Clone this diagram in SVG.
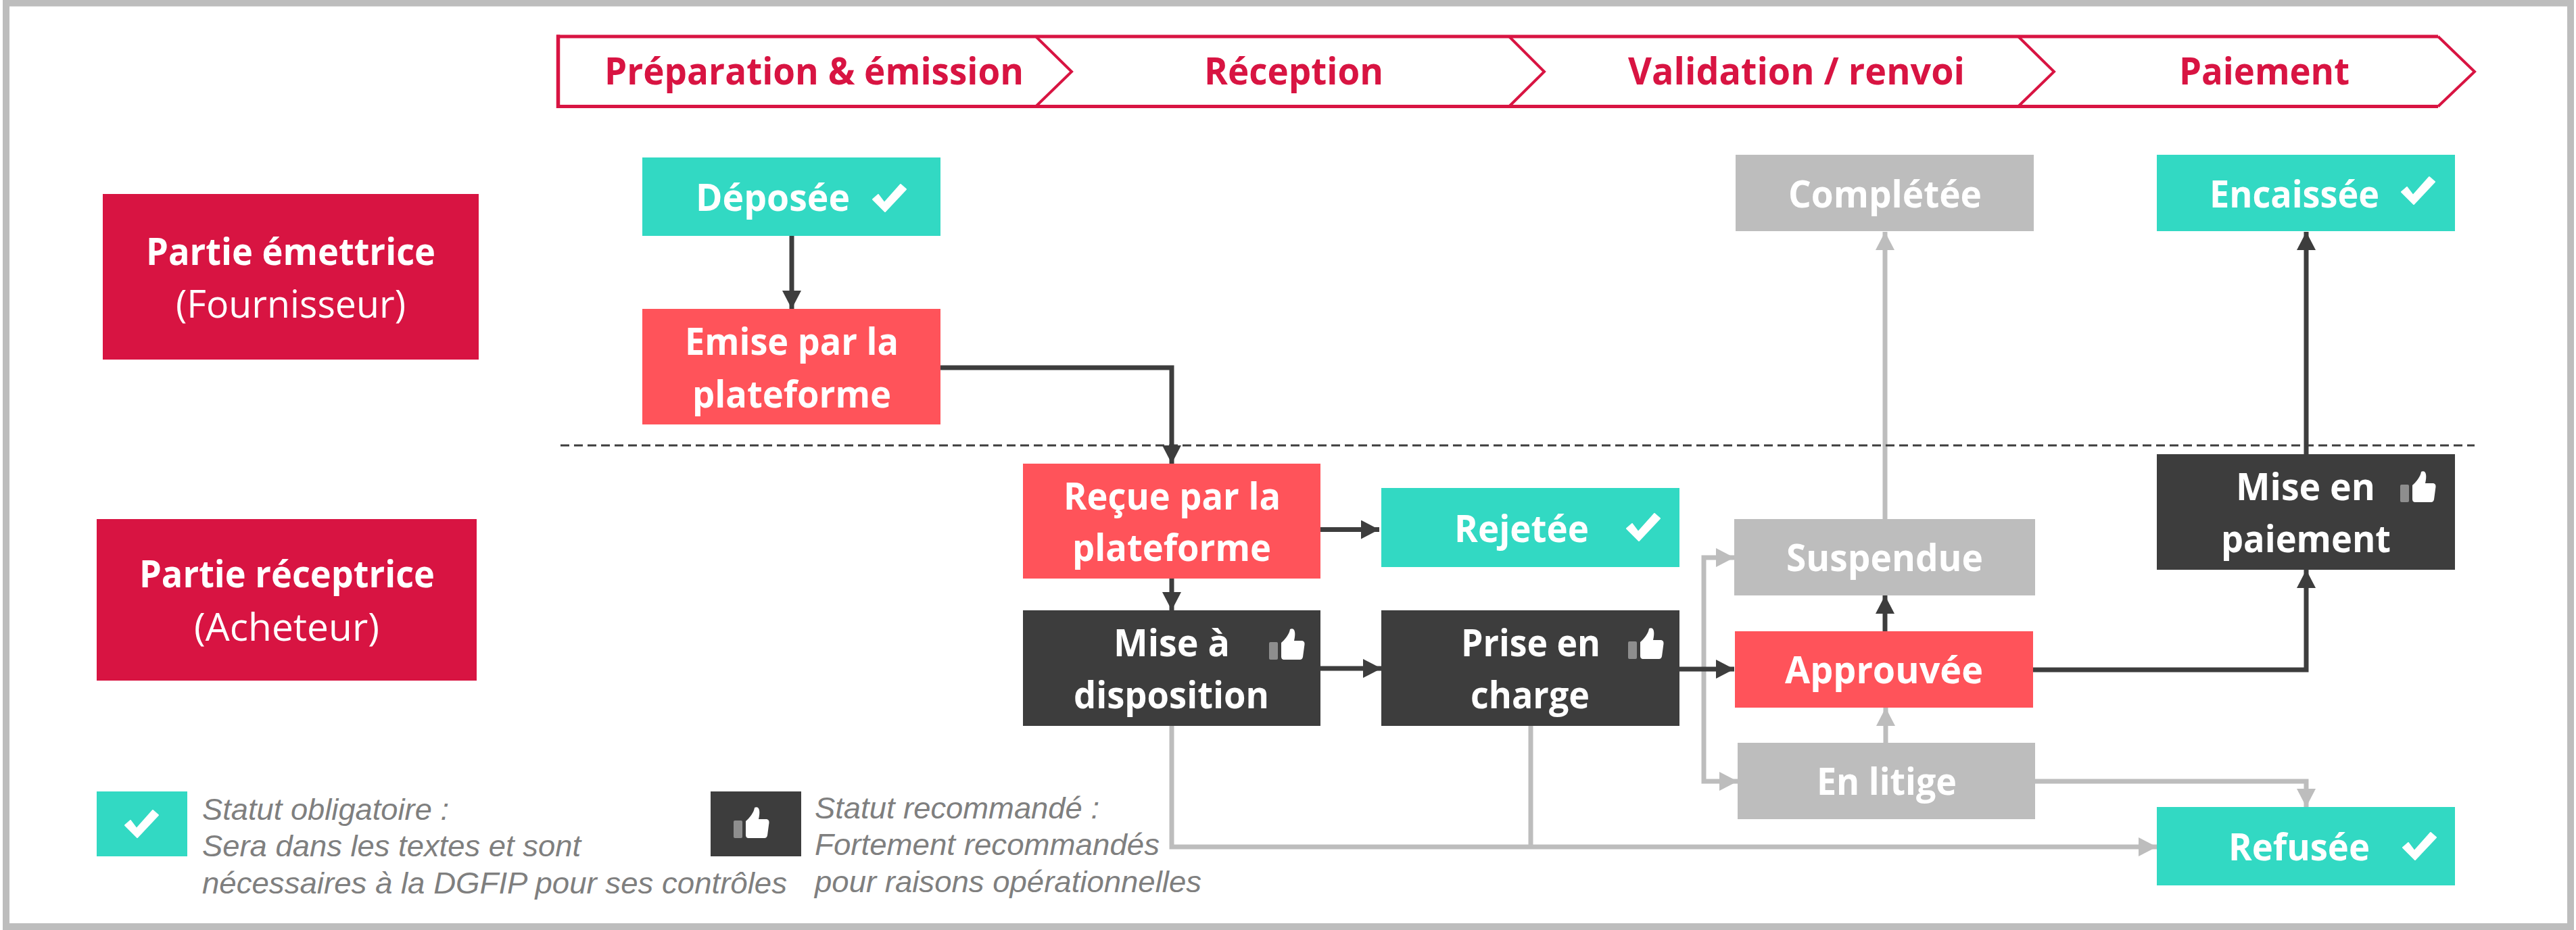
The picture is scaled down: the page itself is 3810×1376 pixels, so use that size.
<svg xmlns="http://www.w3.org/2000/svg" xmlns:xlink="http://www.w3.org/1999/xlink" width="3810" height="1376" viewBox="0 0 3810 1376">
<style>
text{font-family:"Open Sans","Noto Sans","Liberation Sans",sans-serif}
.t{font-size:56px;font-weight:700;fill:#fff}
.r{font-weight:400}
.h{font-size:56px;font-weight:700;fill:#D81442}
.l{font-family:"Liberation Sans",Arial,sans-serif;font-size:45px;font-style:italic;fill:#7F7F7F}
.teal{fill:#32D9C3}.coral{fill:#FF535A}.dark{fill:#3D3D3D}.grey{fill:#BDBDBD}.crim{fill:#D81442}
.cd{fill:none;stroke:#3D3D3D;stroke-width:7;marker-end:url(#ad)}
.cg{fill:none;stroke:#BDBDBD;stroke-width:7;marker-end:url(#ag)}
.cn{fill:none;stroke:#BDBDBD;stroke-width:7}
.ch{fill:none;stroke:#D81442}
</style>
<defs>
<marker id="ad" markerUnits="userSpaceOnUse" markerWidth="28" markerHeight="28" refX="27" refY="14" orient="auto"><path d="M0 0L27 14L0 28Z" fill="#3D3D3D"/></marker>
<marker id="ag" markerUnits="userSpaceOnUse" markerWidth="28" markerHeight="28" refX="27" refY="14" orient="auto"><path d="M0 0L27 14L0 28Z" fill="#BDBDBD"/></marker>
<path id="check" d="M0 22L8 15L17 27L41 0L49 7L18 40Z" fill="#fff" stroke="#fff" stroke-width="2" stroke-linejoin="round"/>
<g id="thumb"><rect x="0" y="20" width="13" height="26" rx="2" fill="#8E8E8E"/><path d="M18 21C24 16 30 8 31 1C38-2 40 6 37 18L49 18C53 19 53 22 52 27L50 42C49 46 47 46 44 46L23 46C19 46 18 44 18 41Z" fill="#fff"/></g>
</defs>
<rect width="3810" height="1376" fill="#fff"/>
<path id="frame" d="M9 4.500H3802V1371H9Z" fill="none" stroke="#BDBDBD" stroke-width="10"/>

<g id="connectors">
<path class="cd" d="M1171 349V457"/>
<path class="cd" d="M1391 544H1733V686"/>
<path class="cd" d="M1953 783.500H2040"/>
<path class="cd" d="M1733 856V903"/>
<path class="cd" d="M1953 989H2043"/>
<path class="cg" d="M2520 990V825H2565"/>
<path class="cg" d="M2520 990V1156H2570"/>
<path class="cd" d="M2484 990H2565"/>
<path class="cg" d="M2788 768V343"/>
<path class="cd" d="M3411 672V343"/>
<path class="cd" d="M2788 934V881"/>
<path class="cg" d="M2789 1099V1047"/>
<path class="cd" d="M3007 991H3411V843"/>
<path class="cg" d="M3010 1156H3411V1194"/>
<path class="cg" d="M1733 1074V1253H3190"/>
<path class="cn" d="M2264 1074V1253"/>
</g>
<path id="separator" d="M829 659H3660" fill="none" stroke="#3D3D3D" stroke-width="3" stroke-dasharray="13 7"/>

<g id="phase-preparation"><path class="ch" stroke-width="5" d="M823 54H1532M823 157.500H1532"/><path class="ch" stroke-width="5.500" d="M825.500 51.500V160"/><path class="ch" stroke-width="4" d="M1532 54L1585 106L1532 157.500"/>
<text class="h" x="894" y="125" textLength="620" lengthAdjust="spacingAndGlyphs">Préparation &amp; émission</text></g>
<g id="phase-reception"><path class="ch" stroke-width="5" d="M1532 54H2232M1532 157.500H2232"/><path class="ch" stroke-width="4" d="M2232 54L2284 106L2232 157.500"/>
<text class="h" x="1781" y="125" textLength="265" lengthAdjust="spacingAndGlyphs">Réception</text></g>
<g id="phase-validation"><path class="ch" stroke-width="5" d="M2232 54H2985M2232 157.500H2985"/><path class="ch" stroke-width="4" d="M2985 54L3038 106L2985 157.500"/>
<text class="h" x="2408" y="125" textLength="498" lengthAdjust="spacingAndGlyphs">Validation / renvoi</text></g>
<g id="phase-paiement"><path class="ch" stroke-width="5" d="M2985 54H3606M2985 157.500H3606"/><path class="ch" stroke-width="4" d="M3606 54L3660 106L3606 157.500"/>
<text class="h" x="3223" y="125" textLength="252" lengthAdjust="spacingAndGlyphs">Paiement</text></g>

<g id="partie-emettrice"><rect class="crim" x="152" y="287" width="556" height="245"/>
<text class="t" x="216" y="392" textLength="428" lengthAdjust="spacingAndGlyphs">Partie émettrice</text>
<text class="t r" x="260" y="470" textLength="340" lengthAdjust="spacingAndGlyphs">(Fournisseur)</text></g>
<g id="partie-receptrice"><rect class="crim" x="143" y="768" width="562" height="239"/>
<text class="t" x="206" y="869" textLength="437" lengthAdjust="spacingAndGlyphs">Partie réceptrice</text>
<text class="t r" x="287" y="948" textLength="274" lengthAdjust="spacingAndGlyphs">(Acheteur)</text></g>

<g id="deposee"><rect class="teal" x="950" y="233" width="441" height="116"/>
<text class="t" x="1029" y="312" textLength="228" lengthAdjust="spacingAndGlyphs">Déposée</text><use xlink:href="#check" href="#check" x="1291" y="273"/></g>
<g id="emise"><rect class="coral" x="950" y="457" width="441" height="171"/>
<text class="t" x="1013" y="525" textLength="316" lengthAdjust="spacingAndGlyphs">Emise par la</text>
<text class="t" x="1024" y="603" textLength="294" lengthAdjust="spacingAndGlyphs">plateforme</text></g>
<g id="recue"><rect class="coral" x="1513" y="686" width="440" height="170"/>
<text class="t" x="1573" y="754" textLength="321" lengthAdjust="spacingAndGlyphs">Reçue par la</text>
<text class="t" x="1586" y="830" textLength="294" lengthAdjust="spacingAndGlyphs">plateforme</text></g>
<g id="rejetee"><rect class="teal" x="2043" y="722" width="441" height="117"/>
<text class="t" x="2151" y="802" textLength="199" lengthAdjust="spacingAndGlyphs">Rejetée</text><use xlink:href="#check" href="#check" x="2406" y="760"/></g>
<g id="mise-a-disposition"><rect class="dark" x="1513" y="903" width="440" height="171"/>
<text class="t" x="1647" y="971" textLength="172" lengthAdjust="spacingAndGlyphs">Mise à</text>
<text class="t" x="1588" y="1048" textLength="289" lengthAdjust="spacingAndGlyphs">disposition</text><use xlink:href="#thumb" href="#thumb" x="1877" y="930"/></g>
<g id="prise-en-charge"><rect class="dark" x="2043" y="903" width="441" height="171"/>
<text class="t" x="2161" y="971" textLength="206" lengthAdjust="spacingAndGlyphs">Prise en</text>
<text class="t" x="2175" y="1048" textLength="176" lengthAdjust="spacingAndGlyphs">charge</text><use xlink:href="#thumb" href="#thumb" x="2408" y="929"/></g>
<g id="completee"><rect class="grey" x="2567" y="229" width="441" height="113"/>
<text class="t" x="2645" y="307" textLength="286" lengthAdjust="spacingAndGlyphs">Complétée</text></g>
<g id="suspendue"><rect class="grey" x="2565" y="768" width="445" height="113"/>
<text class="t" x="2642" y="845" textLength="291" lengthAdjust="spacingAndGlyphs">Suspendue</text></g>
<g id="approuvee"><rect class="coral" x="2566" y="934" width="441" height="113"/>
<text class="t" x="2640" y="1011" textLength="293" lengthAdjust="spacingAndGlyphs">Approuvée</text></g>
<g id="en-litige"><rect class="grey" x="2570" y="1099" width="440" height="113"/>
<text class="t" x="2687" y="1176" textLength="207" lengthAdjust="spacingAndGlyphs">En litige</text></g>
<g id="encaissee"><rect class="teal" x="3190" y="229" width="441" height="113"/>
<text class="t" x="3268" y="307" textLength="251" lengthAdjust="spacingAndGlyphs">Encaissée</text><use xlink:href="#check" href="#check" x="3552" y="262"/></g>
<g id="mise-en-paiement"><rect class="dark" x="3190" y="672" width="441" height="171"/>
<text class="t" x="3307" y="740" textLength="206" lengthAdjust="spacingAndGlyphs">Mise en</text>
<text class="t" x="3285" y="817" textLength="251" lengthAdjust="spacingAndGlyphs">paiement</text><use xlink:href="#thumb" href="#thumb" x="3550" y="697"/></g>
<g id="refusee"><rect class="teal" x="3190" y="1194" width="441" height="116"/>
<text class="t" x="3296" y="1273" textLength="209" lengthAdjust="spacingAndGlyphs">Refusée</text><use xlink:href="#check" href="#check" x="3554" y="1232"/></g>

<g id="legend-obligatoire"><rect class="teal" x="143" y="1171" width="134" height="96"/><use xlink:href="#check" href="#check" x="185" y="1199"/>
<text class="l" x="299" y="1213" textLength="365" lengthAdjust="spacingAndGlyphs">Statut obligatoire :</text>
<text class="l" x="299" y="1267" textLength="560" lengthAdjust="spacingAndGlyphs">Sera dans les textes et sont</text>
<text class="l" x="299" y="1322" textLength="865" lengthAdjust="spacingAndGlyphs">nécessaires à la DGFIP pour ses contrôles</text></g>
<g id="legend-recommande"><rect class="dark" x="1051" y="1171" width="134" height="96"/><use xlink:href="#thumb" href="#thumb" x="1085" y="1194"/>
<text class="l" x="1205" y="1211" textLength="421" lengthAdjust="spacingAndGlyphs">Statut recommandé :</text>
<text class="l" x="1205" y="1265" textLength="510" lengthAdjust="spacingAndGlyphs">Fortement recommandés</text>
<text class="l" x="1205" y="1320" textLength="572" lengthAdjust="spacingAndGlyphs">pour raisons opérationnelles</text></g>
</svg>
